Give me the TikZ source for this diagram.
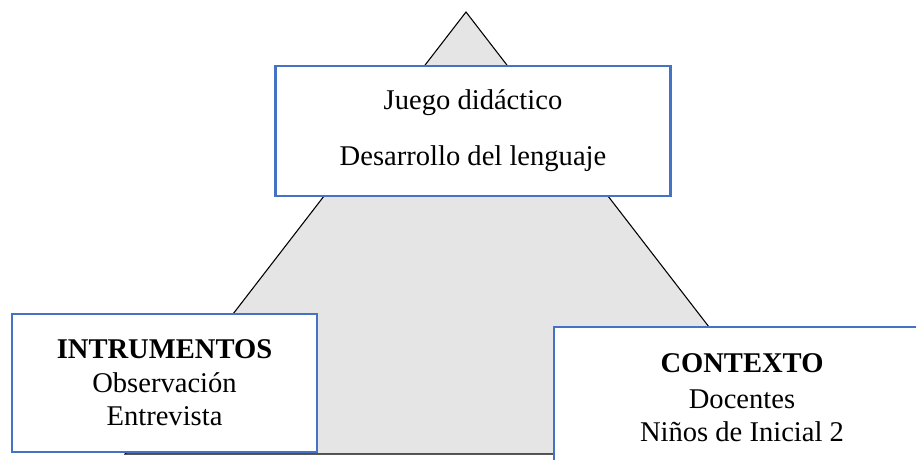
\documentclass[tikz,border=0pt]{standalone}
\usepackage{fontspec}
\setmainfont{Liberation Serif}
\usepackage{tikz}

\definecolor{boxblue}{RGB}{68,114,196}

\begin{document}
\begin{tikzpicture}[x=0.42pt, y=-0.42pt,
    box/.style={draw=boxblue, fill=white, line width=0.95pt, inner sep=0pt,
      align=center, font=\fontsize{12}{14}\selectfont},
    pyramid/.style={draw=black, fill=gray!20, line width=0.45pt}]
      \useasboundingbox (0, 0) rectangle (916, 459);
      \coordinate (apex) at (466, 12);
      \coordinate (baseL) at (125, 454);
      \coordinate (baseR) at (807, 454);
      \draw[pyramid] (apex) -- (baseR) -- (baseL) -- cycle;

      \node[box, minimum width=166pt, minimum height=54.6pt] (tema) at (473, 131)
        {Juego didáctico\\[9.5pt]Desarrollo del lenguaje};
      \node[box, minimum width=128.1pt, minimum height=58pt] (instr) at (164.5, 383)
        {\textbf{INTRUMENTOS}\\Observación\\Entrevista};
      \node[box, minimum width=157.9pt, minimum height=59.6pt] (ctx) at (742, 398)
        {\textbf{CONTEXTO}\\[1pt]Docentes\\Niños de Inicial 2};
    \end{tikzpicture}
\end{document}
